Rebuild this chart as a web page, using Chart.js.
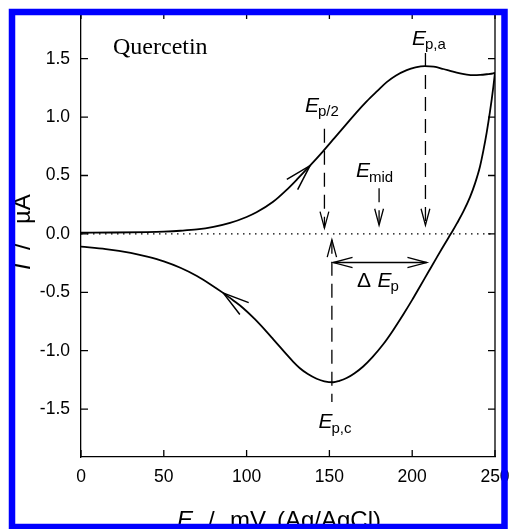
<!DOCTYPE html>
<html>
<head>
<meta charset="utf-8">
<script src="https://cdn.jsdelivr.net/npm/chart.js@4.4.1/dist/chart.umd.min.js"></script>
<style>
  html, body { margin: 0; padding: 0; background: #fff; }
  canvas { display: block; }
</style>
</head>
<body>
<canvas id="cv" width="512" height="529"></canvas>
<script>
// anodic (forward) scan, E in mV vs Ag/AgCl, I in µA
const forwardE = [0, 20, 40, 50, 60, 70, 80, 90, 100, 106, 116, 124, 131, 138, 146, 153, 160, 166, 172.5, 179, 184.6,
                  190, 196.7, 202, 207.7, 213, 218.8, 224, 228.9, 233, 237, 241, 245, 249, 250];
const forwardI = [0.010, 0.012, 0.016, 0.020, 0.027, 0.038, 0.060, 0.094, 0.145, 0.185, 0.275, 0.375, 0.475, 0.58, 0.705, 0.82, 0.935, 1.035, 1.135, 1.225, 1.30,
                  1.355, 1.403, 1.426, 1.437, 1.432, 1.412, 1.392, 1.375, 1.364, 1.359, 1.361, 1.367, 1.375, 1.38];

// cathodic (reverse) scan, back from 250 mV
const reverseE = [250, 249, 248, 246.9, 245, 243, 240.9, 238, 234.9, 231, 227, 224.8, 222, 218, 214.7, 210, 204.7, 200,
                  194.6, 188, 182.5, 176, 170.4, 165, 160.4, 156, 152.4, 147, 142.3, 137, 132.2, 128.2, 124, 120, 116,
                  112, 105, 98, 92, 86, 78, 70, 60, 50, 40, 30, 15, 0];
const reverseI = [1.38, 1.26, 1.15, 1.04, 0.87, 0.715, 0.575, 0.435, 0.315, 0.195, 0.09, 0.035, -0.03, -0.125, -0.205, -0.32, -0.45, -0.565,
                  -0.69, -0.835, -0.945, -1.055, -1.135, -1.195, -1.234, -1.258, -1.27, -1.262, -1.24, -1.2, -1.15, -1.095, -1.03, -0.965, -0.9,
                  -0.836, -0.73, -0.636, -0.57, -0.507, -0.43, -0.36, -0.29, -0.235, -0.195, -0.163, -0.13, -0.109];

// guides pointing down to the baseline: Ep/2, Emid, Ep,a
const dropE = [147, 180, 208];
const dropTop = [0.90, 0.39, 1.55];
const dropTip = [0.05, 0.075, 0.075];

// Ep,c guide, arrow points up to the baseline
const cathE = 151.5;
const cathI = [-0.05, -1.44];

// ΔEp double arrow
const sepE = [152.3, 208.8];
const sepI = -0.245;

// scan direction arrows on the forward and reverse curves
const scanArrowE = [138.3, 86];

const xRange = [0, 250];
const yRange = [-1.91, 1.9];
const xStep = 50;
const yStep = 0.5;

const SANS = '"Liberation Sans", Arial, sans-serif';
const SERIF = '"Liberation Serif", "Times New Roman", serif';

const pts = (xs, ys) => xs.map((v, i) => ({x: v, y: ys[i]}));
const lineDs = (data, extra) => Object.assign({
    data, showLine: true, pointRadius: 0, borderColor: '#000', borderWidth: 1.3, fill: false
}, extra);

function interp(xs, ys, v) {
    for (let i = 0; i < xs.length - 1; i++) {
        const a = xs[i], b = xs[i + 1];
        if ((v - a) * (v - b) <= 0 && a !== b) {
            return ys[i] + (ys[i + 1] - ys[i]) * (v - a) / (b - a);
        }
    }
    return ys[ys.length - 1];
}

function head(ctx, tx, ty, ang, len, spread) {
    ctx.beginPath();
    ctx.moveTo(tx + len * Math.cos(ang + Math.PI - spread), ty + len * Math.sin(ang + Math.PI - spread));
    ctx.lineTo(tx, ty);
    ctx.lineTo(tx + len * Math.cos(ang + Math.PI + spread), ty + len * Math.sin(ang + Math.PI + spread));
    ctx.stroke();
}

function subLabel(ctx, x, y, main, sub, dy) {
    ctx.font = 'italic 21px ' + SANS;
    ctx.fillText(main, x, y);
    const w = ctx.measureText(main).width;
    ctx.font = '15px ' + SANS;
    ctx.fillText(sub, x + w - 1, y + dy);
}

// keep tick-label overflow from pushing the plot box around
function fixBox(s, size) {
    if (s.isHorizontal()) s.height = size; else s.width = size;
    s.paddingTop = s.paddingBottom = s.paddingLeft = s.paddingRight = 0;
}

const deco = {
    id: 'deco',
    afterDatasetsDraw(chart) {
        const {ctx, chartArea: a} = chart;
        const xs = chart.scales.x, ys = chart.scales.y;
        ctx.save();
        ctx.strokeStyle = '#000';
        ctx.fillStyle = '#000';
        ctx.lineWidth = 1.3;
        ctx.lineCap = 'butt';

        // top and right frame
        ctx.beginPath();
        ctx.moveTo(a.left, a.top);
        ctx.lineTo(a.right, a.top);
        ctx.lineTo(a.right, a.bottom);
        ctx.stroke();

        // inward ticks on all four sides
        ctx.beginPath();
        xs.ticks.forEach(t => {
            const px = xs.getPixelForValue(t.value);
            ctx.moveTo(px, a.bottom); ctx.lineTo(px, a.bottom - 7);
            ctx.moveTo(px, a.top); ctx.lineTo(px, a.top + 7);
        });
        ys.ticks.forEach(t => {
            const py = ys.getPixelForValue(t.value);
            ctx.moveTo(a.left, py); ctx.lineTo(a.left + 7, py);
            ctx.moveTo(a.right, py); ctx.lineTo(a.right - 7, py);
        });
        ctx.stroke();

        // arrowheads on the guides
        const sp = 15 * Math.PI / 180;
        dropE.forEach((e, i) => {
            head(ctx, xs.getPixelForValue(e), ys.getPixelForValue(dropTip[i]), Math.PI / 2, 17, sp);
        });
        head(ctx, xs.getPixelForValue(cathE), ys.getPixelForValue(cathI[0]), -Math.PI / 2, 18, sp);
        const sy = ys.getPixelForValue(sepI);
        head(ctx, xs.getPixelForValue(sepE[0]), sy, Math.PI, 20, sp);
        head(ctx, xs.getPixelForValue(sepE[1]), sy, 0, 20, sp);

        // scan direction arrows
        ctx.lineWidth = 1.5;
        const curves = [[forwardE, forwardI, 1], [reverseE, reverseI, -1]];
        curves.forEach(([ex, iy, dir], k) => {
            const e = scanArrowE[k];
            const tx = xs.getPixelForValue(e), ty = ys.getPixelForValue(interp(ex, iy, e));
            const bx = xs.getPixelForValue(e - 3 * dir), by = ys.getPixelForValue(interp(ex, iy, e - 3 * dir));
            head(ctx, tx, ty, Math.atan2(ty - by, tx - bx), 27, 16 * Math.PI / 180);
        });

        // annotations
        ctx.textAlign = 'left';
        ctx.textBaseline = 'alphabetic';
        ctx.font = '24px ' + SERIF;
        ctx.fillText('Quercetin', 113, 54);
        subLabel(ctx, 412, 45, 'E', 'p,a', 3.5);
        subLabel(ctx, 305, 111.7, 'E', 'p/2', 4.5);
        subLabel(ctx, 356, 176.7, 'E', 'mid', 5);
        subLabel(ctx, 318.5, 428, 'E', 'p,c', 4.5);
        ctx.font = '21px ' + SANS;
        ctx.fillText('\u0394', 357, 287);
        subLabel(ctx, 377.5, 287, 'E', 'p', 4);

        // axis titles
        ctx.font = 'italic 24px ' + SANS;
        ctx.fillText('E', 177, 528);
        ctx.font = '24px ' + SANS;
        ctx.fillText('/', 208, 528);
        ctx.fillText('mV', 230, 528);
        ctx.fillText('(Ag/AgCl)', 277, 528);

        ctx.save();
        ctx.translate(30, 0);
        ctx.rotate(-Math.PI / 2);
        ctx.font = 'italic 24px ' + SANS;
        ctx.fillText('I', -270, 0);
        ctx.font = '24px ' + SANS;
        ctx.fillText('/', -250, 0);
        ctx.fillText('\u00b5A', -224, 0);
        ctx.restore();

        ctx.restore();
    },
    afterDraw(chart) {
        const ctx = chart.ctx;
        ctx.save();
        ctx.strokeStyle = '#0000ff';
        ctx.lineWidth = 6.5;
        ctx.strokeRect(12, 12, 492.5, 515);
        ctx.restore();
    }
};

new Chart(document.getElementById('cv'), {
    type: 'scatter',
    data: {
        datasets: [
            lineDs(pts(xRange, [0, 0]), {borderDash: [1.5, 4.5], borderWidth: 1.4}),
            ...dropE.map((e, i) => lineDs(pts([e, e], [dropTop[i], dropTip[i]]), {borderDash: [14, 8]})),
            lineDs(pts([cathE, cathE], cathI), {borderDash: [14, 8]}),
            lineDs(pts(sepE, [sepI, sepI]), {borderWidth: 1.4}),
            lineDs(pts(forwardE, forwardI), {borderWidth: 1.8, cubicInterpolationMode: 'monotone'}),
            lineDs(pts(reverseE, reverseI), {borderWidth: 1.8, cubicInterpolationMode: 'monotone'})
        ]
    },
    options: {
        responsive: false,
        devicePixelRatio: 1,
        animation: false,
        events: [],
        layout: { padding: { left: 0, top: 12, right: 17, bottom: 0 } },
        plugins: { legend: { display: false }, tooltip: { enabled: false } },
        scales: {
            x: {
                type: 'linear',
                min: xRange[0], max: xRange[1],
                afterFit: s => fixBox(s, 72),
                grid: { drawOnChartArea: false, drawTicks: false },
                border: { display: true, color: '#000', width: 1.3 },
                ticks: {
                    stepSize: xStep, includeBounds: false, padding: 10, color: '#000',
                    font: { family: SANS, size: 17.5 }, maxRotation: 0,
                    callback: v => String(v)
                }
            },
            y: {
                type: 'linear',
                min: yRange[0], max: yRange[1],
                afterFit: s => fixBox(s, 81),
                grid: { drawOnChartArea: false, drawTicks: false },
                border: { display: true, color: '#000', width: 1.3 },
                ticks: {
                    stepSize: yStep, includeBounds: false, padding: 11, color: '#000',
                    font: { family: SANS, size: 17.5 },
                    callback: v => v.toFixed(1)
                }
            }
        }
    },
    plugins: [deco]
});
</script>
</body>
</html>
